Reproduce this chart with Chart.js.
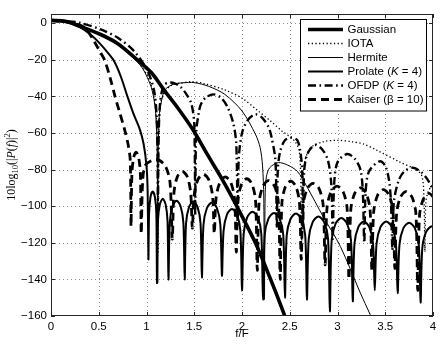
<!DOCTYPE html>
<html>
<head>
<meta charset="utf-8">
<script src="https://cdn.jsdelivr.net/npm/chart.js@4.4.1/dist/chart.umd.min.js"></script>
<style>
html,body{margin:0;padding:0;background:#fff;}
#wrap{width:443px;height:350px;position:relative;}
</style>
</head>
<body>
<div id="wrap"><canvas id="c" width="443" height="350"></canvas></div>
<script>
// ---- axis ticks ----
const xTicks = [0, 0.5, 1, 1.5, 2, 2.5, 3, 3.5, 4];
const yTicks = [-160, -140, -120, -100, -80, -60, -40, -20, 0];

// ---- series names ----
const seriesNames = ['Gaussian', 'IOTA', 'Hermite', 'Prolate', 'OFDP', 'Kaiser'];

// ---- Gaussian ----
const gaussF  = [0, 0.15, 0.3, 0.52, 0.7, 0.87, 1.05, 1.19, 1.33, 1.49, 1.64, 1.8, 1.93, 2.14, 2.3, 2.43, 2.55];
const gaussDB = [1.5, 1.0, -1.6, -6.2, -11.2, -18.5, -27, -37, -46.5, -58.5, -72, -86, -98.5, -120, -140, -157.5, -175];

// ---- IOTA ----
const iotaF  = [0, 0.15, 0.3, 0.52, 0.7, 0.87, 0.95, 1.01, 1.05, 1.08, 1.1, 1.115, 1.122, 1.13, 1.15, 1.2, 1.26, 1.36, 1.47, 1.6, 1.82, 2.0, 2.17, 2.3, 2.42, 2.5, 2.56, 2.6, 2.615, 2.625, 2.635, 2.66, 2.72, 2.85, 3.0, 3.15, 3.27, 3.41, 3.65, 3.8, 3.88, 3.905, 3.915, 3.925, 3.95, 4.0];
const iotaDB = [1.5, 1.0, -1.7, -6.3, -11.3, -19, -23.5, -29, -34, -41, -50, -68, -125, -62, -43, -37, -34, -32.8, -32, -33, -36.5, -41, -48, -53.5, -59, -62, -65, -70, -85, -125, -88, -75, -68, -64.8, -64, -64.8, -66, -69.4, -75.8, -79.5, -83, -95, -125, -98, -92, -88];

// ---- Hermite ----
const hermF  = [0, 0.15, 0.3, 0.52, 0.7, 0.87, 0.95, 1.01, 1.05, 1.08, 1.1, 1.112, 1.117, 1.122, 1.13, 1.14, 1.19, 1.28, 1.38, 1.5, 1.65, 1.82, 2.0, 2.14, 2.19, 2.215, 2.228, 2.235, 2.242, 2.255, 2.29, 2.38, 2.48, 2.58, 2.68, 2.85, 3.03, 3.24, 3.34, 3.42];
const hermDB = [1.5, 1.0, -1.8, -6.5, -11.8, -19.5, -24, -29.8, -35, -42, -52, -70, -142, -70, -55, -47.6, -36.7, -33.4, -32.6, -32.5, -34.5, -38.9, -48, -60.6, -68, -78, -95, -151, -95, -84, -79, -76.2, -77.6, -81, -89.4, -105.7, -122, -147.5, -159, -169];

// ---- Prolate (K = 4) ----
const prolF = [0, 0.15, 0.31, 0.42, 0.52, 0.6, 0.66, 0.73, 0.8, 0.86, 0.93, 0.97, 1.0, 1.012, 1.02,
  1.027, 1.042, 1.065, 1.088, 1.103, 1.11,
  1.12, 1.14, 1.17, 1.20, 1.22, 1.23,
  1.244, 1.272, 1.315, 1.357, 1.386, 1.40,
  1.414, 1.445, 1.49, 1.535, 1.566, 1.58,
  1.597, 1.633, 1.685, 1.737, 1.773, 1.79,
  1.807, 1.843, 1.895, 1.947, 1.983, 2.00,
  2.018, 2.055, 2.11, 2.165, 2.202, 2.22,
  2.238, 2.278, 2.335, 2.393, 2.432, 2.45,
  2.468, 2.508, 2.565, 2.623, 2.662, 2.68,
  2.699, 2.74, 2.80, 2.86, 2.901, 2.92,
  2.939, 2.98, 3.04, 3.10, 3.141, 3.16,
  3.178, 3.218, 3.275, 3.333, 3.372, 3.39,
  3.409, 3.45, 3.51, 3.57, 3.611, 3.63,
  3.649, 3.69, 3.75, 3.81, 3.851, 3.87,
  3.888, 3.928, 3.99, 4.05];
const prolDB = [1.5, 0.8, -2.5, -6.5, -11.6, -16.5, -20.7, -29, -40, -49, -58, -66, -78, -92, -129,
  -104, -95, -92, -95, -104, -142,
  -108, -99, -96, -99, -108, -140,
  -109, -100, -97, -100, -109, -140,
  -109.5, -100.5, -97.5, -100.5, -109.5, -139,
  -110, -101, -98, -101, -110, -138,
  -113.5, -104.5, -101.5, -104.5, -113.5, -146,
  -115, -106, -103, -106, -115, -151,
  -115.7, -106.7, -103.7, -106.7, -115.7, -150,
  -116, -107, -104, -107, -116, -151,
  -117.7, -108.7, -105.7, -108.7, -117.7, -157.5,
  -118.5, -109.5, -106.5, -109.5, -118.5, -152,
  -120.4, -111.4, -108.4, -111.4, -120.4, -146,
  -120.4, -111.4, -108.4, -111.4, -120.4, -147.5,
  -121, -112, -109, -112, -121, -152.6,
  -123, -114, -111, -114];

// ---- OFDP (K = 4) ----
const ofdpF = [0, 0.15, 0.3, 0.52, 0.7, 0.87, 1.01, 1.08, 1.105, 1.115, 1.12,
  1.125, 1.14, 1.18, 1.24, 1.3, 1.36, 1.42, 1.47, 1.50, 1.51,
  1.52, 1.55, 1.57, 1.62, 1.7, 1.78, 1.85, 1.91, 1.94, 1.955,
  1.965, 2.0, 2.06, 2.14, 2.21, 2.28, 2.31, 2.35, 2.365,
  2.375, 2.40, 2.45, 2.52, 2.58, 2.61, 2.63, 2.64,
  2.65, 2.68, 2.76, 2.84, 2.9, 2.935, 2.95,
  2.965, 3.0, 3.1, 3.18, 3.24, 3.265, 3.28,
  3.295, 3.33, 3.44, 3.5, 3.54, 3.56, 3.575,
  3.59, 3.64, 3.7, 3.79, 3.88, 3.95, 4.0, 4.02];
const ofdpDB = [1.5, 1.2, 0.2, -3.4, -8, -15.3, -26, -37, -50, -70, -105,
  -70, -45, -34, -32.5, -33, -35, -39, -44, -55, -105,
  -60, -48, -44.3, -40.7, -38.9, -40.7, -46, -55, -66, -110,
  -75, -60, -53, -49.8, -51.6, -57, -62.5, -75, -112,
  -80, -70, -64, -62.5, -64, -70, -80, -112,
  -82, -72, -66.6, -69, -75, -88, -118,
  -88, -76, -71.5, -74, -80, -92, -120,
  -92, -81, -75.5, -78, -86, -98, -124,
  -98, -86, -81, -79, -81.5, -86, -92, -110];

// ---- Kaiser (beta = 10) ----
const kaisF = [0, 0.2, 0.35, 0.45, 0.51, 0.56, 0.62, 0.67, 0.72, 0.77, 0.81, 0.83, 0.838,
  0.847, 0.865, 0.891, 0.918, 0.936, 0.945,
  0.96, 0.99, 1.10, 1.19, 1.245, 1.27,
  1.287, 1.322, 1.375, 1.428, 1.463, 1.48,
  1.498, 1.538, 1.595, 1.652, 1.692, 1.71,
  1.728, 1.768, 1.825, 1.882, 1.922, 1.94,
  1.958, 1.995, 2.05, 2.105, 2.142, 2.16,
  2.179, 2.22, 2.28, 2.34, 2.381, 2.40,
  2.418, 2.455, 2.51, 2.565, 2.602, 2.62,
  2.64, 2.683, 2.745, 2.808, 2.85, 2.87,
  2.89, 2.933, 2.995, 3.058, 3.10, 3.12,
  3.139, 3.18, 3.24, 3.30, 3.341, 3.36,
  3.379, 3.42, 3.48, 3.54, 3.581, 3.60,
  3.619, 3.66, 3.72, 3.78, 3.821, 3.84,
  3.859, 3.90, 3.96, 4.02];
const kaisDB = [1.5, 0.3, -2.3, -9.8, -15.3, -20, -30, -40, -49, -58, -67, -75, -111,
  -82.5, -73.5, -70.5, -73.5, -82.5, -115,
  -86.5, -77.5, -74.5, -77.5, -86.5, -118,
  -93, -84, -81, -84, -93, -112,
  -94.5, -85.5, -82.5, -85.5, -94.5, -115,
  -96, -87, -84, -87, -96, -125,
  -97, -88, -85, -88, -97, -135,
  -98, -89, -86, -89, -98, -140,
  -98.3, -89.3, -86.3, -89.3, -98.3, -129,
  -99.5, -90.5, -87.5, -90.5, -99.5, -132,
  -101, -92, -89, -92, -101, -140,
  -102, -93, -90, -93, -102, -135,
  -103, -94, -91, -94, -103, -134,
  -104, -95, -92, -95, -104, -146,
  -105, -96, -93, -96];

const pts = (xs, ys) => xs.map((x, i) => ({x: x, y: ys[i]}));

const SANS = '"Liberation Sans", Arial, Helvetica, sans-serif';
const SERIF = '"Liberation Serif", "DejaVu Serif", serif';

const styles = [
  {w: 3.6, dash: []},
  {w: 1.3, dash: [1.3, 2.4]},
  {w: 1.0, dash: []},
  {w: 2.0, dash: []},
  {w: 2.4, dash: [8, 3.5, 1.6, 3.5]},
  {w: 2.8, dash: [8, 5]}
];
const dataPairs = [[gaussF, gaussDB], [iotaF, iotaDB], [hermF, hermDB], [prolF, prolDB], [ofdpF, ofdpDB], [kaisF, kaisDB]];

const datasets = dataPairs.map((p, i) => ({
  label: seriesNames[i],
  data: pts(p[0], p[1]),
  borderColor: '#000',
  borderWidth: styles[i].w,
  borderDash: styles[i].dash,
  borderJoinStyle: 'round',
  pointRadius: 0,
  tension: 0.3,
  fill: false
}));

// legend text parts (italic where the reference uses math italic)
const legendParts = [
  [['Gaussian', false]],
  [['IOTA', false]],
  [['Hermite', false]],
  [['Prolate (', false], ['K', true], [' = 4)', false]],
  [['OFDP (', false], ['K', true], [' = 4)', false]],
  [['Kaiser (\u03B2 = 10)', false]]
];

const framePlugin = {
  id: 'frame',
  beforeDatasetsDraw(chart) {
    const {ctx, chartArea: a, scales: {x, y}} = chart;
    ctx.save();
    ctx.strokeStyle = '#8c8c8c';
    ctx.lineWidth = 1;
    ctx.setLineDash([1, 3]);
    xTicks.forEach(v => {
      if (v <= x.min || v >= x.max) return;
      const px = Math.round(x.getPixelForValue(v)) + 0.5;
      ctx.beginPath(); ctx.moveTo(px, a.top); ctx.lineTo(px, a.bottom); ctx.stroke();
    });
    yTicks.forEach(v => {
      if (v <= y.min || v >= y.max) return;
      const py = Math.round(y.getPixelForValue(v)) + 0.5;
      ctx.beginPath(); ctx.moveTo(a.left, py); ctx.lineTo(a.right, py); ctx.stroke();
    });
    ctx.restore();
  },
  afterDatasetsDraw(chart) {
    const {ctx, chartArea: a, scales: {x, y}} = chart;
    ctx.save();
    ctx.setLineDash([]);
    ctx.strokeStyle = '#262626';
    ctx.lineWidth = 1;
    ctx.strokeRect(a.left + 0.5, a.top + 0.5, a.right - a.left - 1, a.bottom - a.top - 1);
    const tl = 4;
    ctx.beginPath();
    xTicks.forEach(v => {
      const px = Math.round(x.getPixelForValue(v)) + 0.5;
      ctx.moveTo(px, a.bottom); ctx.lineTo(px, a.bottom - tl);
      ctx.moveTo(px, a.top); ctx.lineTo(px, a.top + tl);
    });
    yTicks.forEach(v => {
      const py = Math.round(y.getPixelForValue(v)) + 0.5;
      ctx.moveTo(a.left, py); ctx.lineTo(a.left + tl, py);
      ctx.moveTo(a.right, py); ctx.lineTo(a.right - tl, py);
    });
    ctx.stroke();

    // legend box
    const bx = a.right - 132.5, by = a.top + 5.5, bw = 126, bh = 91.5;
    ctx.fillStyle = '#fff';
    ctx.fillRect(bx, by, bw, bh);
    ctx.strokeStyle = '#000';
    ctx.strokeRect(bx, by, bw, bh);
    const x0 = a.right - 125, x1 = a.right - 90, tx = a.right - 85.5;
    chart.data.datasets.forEach((ds, i) => {
      const yy = Math.round(a.top + 15 + i * 13.9) + 0.5;
      ctx.save();
      ctx.strokeStyle = '#000';
      ctx.lineWidth = ds.borderWidth;
      ctx.setLineDash(ds.borderDash);
      ctx.beginPath(); ctx.moveTo(x0, yy); ctx.lineTo(x1, yy); ctx.stroke();
      ctx.restore();
      ctx.fillStyle = '#000';
      ctx.textBaseline = 'middle';
      ctx.textAlign = 'left';
      let cx = tx;
      legendParts[i].forEach(([t, it]) => {
        ctx.font = (it ? 'italic ' : '') + '11.5px ' + SANS;
        ctx.fillText(t, cx, yy);
        cx += ctx.measureText(t).width;
      });
    });
    ctx.restore();
  },
  afterDraw(chart) {
    const {ctx, chartArea: a} = chart;
    const parts = [
      {t: '10log', f: '12px ' + SERIF, dy: 0},
      {t: '10', f: '8.5px ' + SERIF, dy: 3},
      {t: '(|', f: '12px ' + SERIF, dy: 0},
      {t: 'P', f: 'italic 12px ' + SERIF, dy: 0},
      {t: '(', f: '12px ' + SERIF, dy: 0},
      {t: 'f', f: 'italic 12px ' + SERIF, dy: 0},
      {t: ')|', f: '12px ' + SERIF, dy: 0},
      {t: '2', f: '8.5px ' + SERIF, dy: -5},
      {t: ')', f: '12px ' + SERIF, dy: 0}
    ];
    ctx.save();
    let total = 0;
    parts.forEach(p => { ctx.font = p.f; p.w = ctx.measureText(p.t).width; total += p.w; });
    ctx.translate(15, (a.top + a.bottom) / 2);
    ctx.rotate(-Math.PI / 2);
    ctx.fillStyle = '#000';
    ctx.textBaseline = 'alphabetic';
    ctx.textAlign = 'left';
    let cx = -total / 2;
    parts.forEach(p => { ctx.font = p.f; ctx.fillText(p.t, cx, p.dy); cx += p.w; });
    ctx.restore();
  }
};

new Chart(document.getElementById('c'), {
  type: 'line',
  data: {datasets: datasets},
  options: {
    responsive: false,
    animation: false,
    devicePixelRatio: 1,
    layout: {padding: {left: 0, top: 14, right: 10, bottom: 0}},
    plugins: {legend: {display: false}, tooltip: {enabled: false}},
    scales: {
      x: {
        type: 'linear', min: 0, max: 4,
        afterBuildTicks: s => { s.ticks = xTicks.map(v => ({value: v})); },
        afterFit: s => { s.height = 34; },
        grid: {display: false, drawTicks: false},
        border: {display: false},
        ticks: {color: '#000', font: {family: SANS, size: 11.5}, padding: 4, maxRotation: 0, autoSkip: false,
          callback: v => String(v)},
        title: {display: true, text: 'f/F', color: '#000', font: {family: SANS, size: 11.5}, padding: {top: 0, bottom: 9}}
      },
      y: {
        type: 'linear', min: -160, max: 5,
        afterBuildTicks: s => { s.ticks = yTicks.map(v => ({value: v})); },
        afterFit: s => { s.width = 51; },
        grid: {display: false, drawTicks: false},
        border: {display: false},
        ticks: {color: '#000', font: {family: SANS, size: 11.5}, padding: 4, autoSkip: false,
          callback: v => (v < 0 ? '\u2212' + Math.abs(v) : String(v))}
      }
    }
  },
  plugins: [framePlugin]
});
</script>
</body>
</html>
